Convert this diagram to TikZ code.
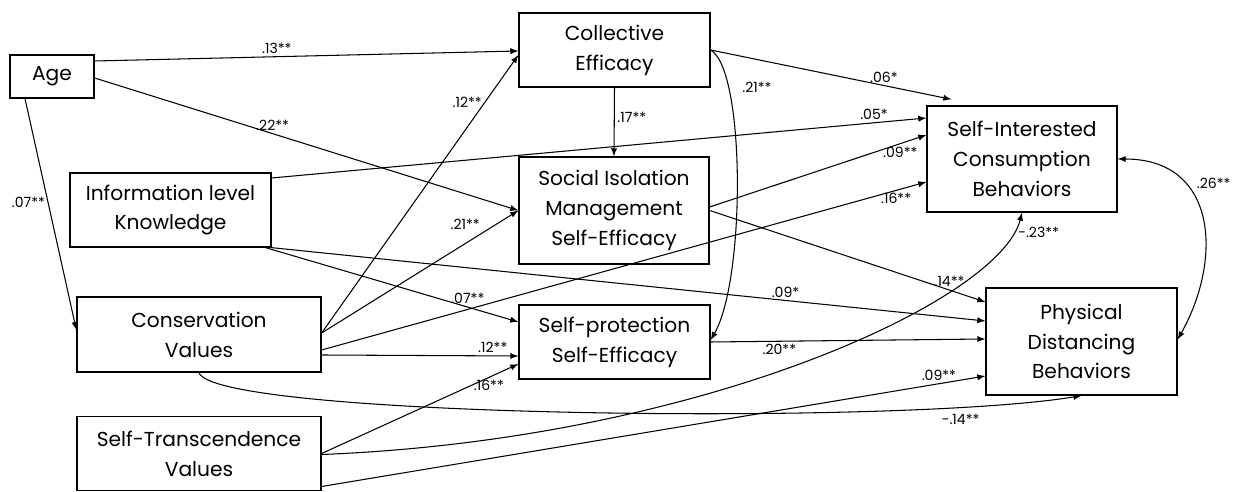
\documentclass[tikz,border=0pt]{standalone}
\usepackage{fontspec}
\setmainfont{Poppins}
\usepackage{tikz}
\usetikzlibrary{arrows,calc}

\begin{document}
\begin{tikzpicture}[x=0.02cm,y=-0.02cm,
  var/.style={draw,line width=0.75pt,align=center,inner sep=0pt,font=\fontsize{11.5}{17}\selectfont},
  path/.style={-latex,line width=0.6pt},
  coef/.style={font=\fontsize{8}{9}\selectfont,inner sep=1.5pt}]
\useasboundingbox (0,0) rectangle (1251,492);

\node[var,minimum width=1.68cm,minimum height=0.86cm] (age) at (52,76.5) {Age};
\node[var,minimum width=4.02cm,minimum height=1.48cm] (info) at (170.5,210) {Information level\\Knowledge};
\node[var,minimum width=4.88cm,minimum height=1.5cm] (cons) at (199,334.5) {Conservation\\Values};
\node[var,minimum width=4.88cm,minimum height=1.48cm] (trans) at (199,453.5) {Self-Transcendence\\Values};
\node[var,minimum width=3.82cm,minimum height=1.48cm] (coll) at (614.5,50) {Collective\\Efficacy};
\node[var,minimum width=3.8cm,minimum height=2.14cm] (soc) at (614,210.5) {Social Isolation\\Management\\Self-Efficacy};
\node[var,minimum width=3.82cm,minimum height=1.48cm] (prot) at (614.5,342) {Self-protection\\Self-Efficacy};
\node[var,minimum width=3.8cm,minimum height=2.12cm] (sic) at (1022,159) {Self-Interested\\Consumption\\Behaviors};
\node[var,minimum width=3.82cm,minimum height=2.14cm] (pd) at (1081.5,341.5) {Physical\\Distancing\\Behaviors};

\draw[path] ([shift={(0,-15.5)}]age.east) -- node[coef,above,pos=0.43]{.13**} ([shift={(0,1)}]coll.west);
\draw[path] ([shift={(0,1.5)}]age.east) -- node[coef,above,pos=0.42]{.22**} (soc.west);
\draw[path] ([shift={(-27,0)}]age.south) -- node[coef,left,pos=0.45]{.07**} ([shift={(0,-4.5)}]cons.west);
\draw[path] ([shift={(0,-32)}]info.east) -- node[coef,above,pos=0.92]{.05*} ([shift={(0,-41)}]sic.west);
\draw[path] ([shift={(-6,0)}]info.south east) -- node[coef,above,pos=0.8]{.07**} ([shift={(0,-20)}]prot.west);
\draw[path] (info.south east) -- node[coef,above,pos=0.72]{.09*} ([shift={(0,-20.5)}]pd.west);
\draw[path] (coll.east) -- node[coef,above,pos=0.72]{.06*} ([shift={(25,-6)}]sic.north west);
\draw[path] (coll.south) -- node[coef,right,pos=0.43]{.17**} (soc.north);
\draw[path] (coll.east) .. controls +(35,20) and +(35,-60) .. node[coef,right,pos=0.22,xshift=6pt]{.21**} ([shift={(0,-2)}]prot.east);
\draw[path] ([shift={(0,-1.5)}]cons.east) -- node[coef,left,pos=0.83]{.12**} ([shift={(0,5)}]coll.west);
\draw[path] ([shift={(0,-1.5)}]cons.east) -- node[coef,above left,pos=0.82]{.21**} (soc.west);
\draw[path] ([shift={(0,15.5)}]cons.east) -- node[coef,below,pos=0.95]{.16**} ([shift={(0,23)}]sic.west);
\draw[path] ([shift={(0,20.5)}]cons.east) -- node[coef,above,pos=0.87]{.12**} ([shift={(0,14)}]prot.west);
\draw[path] (cons.south) .. controls +(15,45) and +(-181,30) .. node[coef,below,pos=0.84,yshift=-2pt]{-.14**} (pd.south);
\draw[path] ([shift={(0,-3.5)}]soc.east) -- node[coef,below,pos=0.88]{.09**} ([shift={(0,-24)}]sic.west);
\draw[path] (soc.east) -- node[coef,above,pos=0.87]{.14**} ([shift={(0,-39.5)}]pd.west);
\draw[path] (prot.east) -- node[coef,below,pos=0.25]{.20**} ([shift={(0,-2.5)}]pd.west);
\draw[path] (trans.east) -- node[coef,below,pos=0.85]{.16**} ([shift={(0,22)}]prot.west);
\draw[path] ([shift={(0,1)}]trans.east) .. controls +(379,-15) and +(-22,88) .. node[coef,right,pos=0.94,yshift=-2pt]{-.23**} (sic.south);
\draw[path] ([shift={(0,33)}]trans.east) -- node[coef,above,pos=0.93]{.09**} ([shift={(0,34.5)}]pd.west);
\draw[latex-latex,line width=0.6pt] (sic.east) .. controls +(100,0) and +(45,-80) .. node[coef,right,pos=0.3,xshift=6pt]{.26**} ([shift={(0,-2)}]pd.east);
\end{tikzpicture}
\end{document}
